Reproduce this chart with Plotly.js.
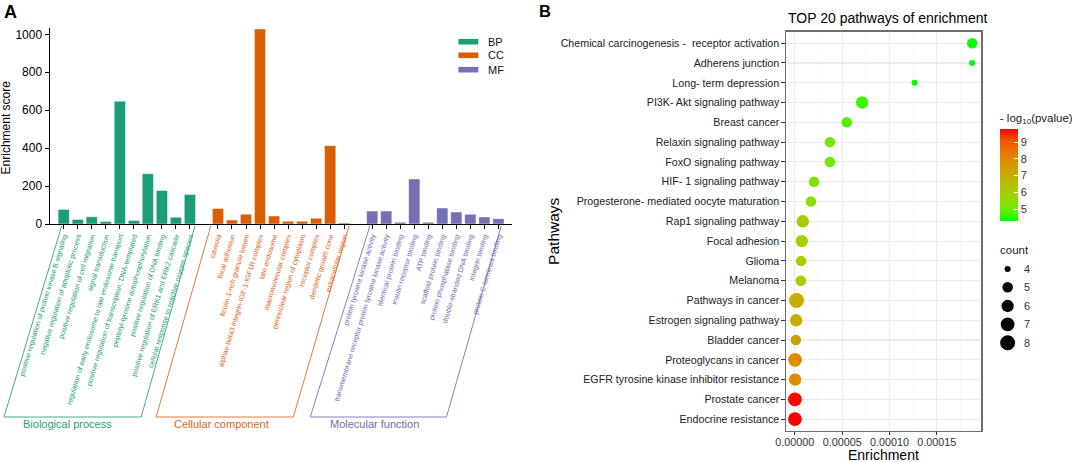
<!DOCTYPE html>
<html>
<head>
<meta charset="utf-8">
<script src="https://cdn.plot.ly/plotly-3.0.1.min.js"></script>
<style>html,body{margin:0;padding:0;background:#fff;}#chart{width:1072px;height:462px;}</style>
</head>
<body>
<div id="chart"></div>
<script>
// ---------- Panel A data ----------
const bpTerms = [
  "positive regulation of protein kinase B signaling",
  "negative regulation of apoptotic process",
  "positive regulation of cell migration",
  "signal transduction",
  "regulation of early endosome to late endosome transport",
  "positive regulation of transcription, DNA-templated",
  "peptidyl-tyrosine autophosphorylation",
  "positive regulation of DNA binding",
  "positive regulation of ERK1 and ERK2 cascade",
  "cellular response to reactive oxygen species"
];
const bpScores = [77, 24, 38, 13, 647, 18, 265, 177, 35, 156];

const ccTerms = [
  "caveola",
  "focal adhesion",
  "ficolin-1-rich granule lumen",
  "alphav-beta3 integrin-IGF-1-IGF1R complex",
  "late endosome",
  "macromolecular complex",
  "perinuclear region of cytoplasm",
  "receptor complex",
  "dendritic growth cone",
  "extracellular region"
];
const ccScores = [82, 21, 52, 1028, 42, 15, 14, 30, 413, 5];

const mfTerms = [
  "protein tyrosine kinase activity",
  "transmembrane receptor protein tyrosine kinase activity",
  "identical protein binding",
  "insulin receptor binding",
  "ATP binding",
  "scaffold protein binding",
  "protein phosphatase binding",
  "double-stranded DNA binding",
  "integrin binding",
  "protein C-terminus binding"
];
const mfScores = [68, 68, 9, 237, 9, 84, 63, 51, 37, 28];

const groupNames = ["BP", "CC", "MF"];
const groupTitles = ["Biological process", "Cellular component", "Molecular function"];

// ---------- Panel B data ----------
const pathways = [
  "Chemical carcinogenesis -\u00a0 receptor activation",
  "Adherens junction",
  "Long- term depression",
  "PI3K- Akt signaling pathway",
  "Breast cancer",
  "Relaxin signaling pathway",
  "FoxO signaling pathway",
  "HIF- 1 signaling pathway",
  "Progesterone- mediated oocyte maturation",
  "Rap1 signaling pathway",
  "Focal adhesion",
  "Glioma",
  "Melanoma",
  "Pathways in cancer",
  "Estrogen signaling pathway",
  "Bladder cancer",
  "Proteoglycans in cancer",
  "EGFR tyrosine kinase inhibitor resistance",
  "Prostate cancer",
  "Endocrine resistance"
];
const enrichment = [1.873e-4, 1.873e-4, 1.264e-4, 7.11e-5, 5.49e-5, 3.71e-5, 3.71e-5, 2.03e-5, 1.71e-5, 8.4e-6,
                    7.4e-6, 6.6e-6, 6.3e-6, 1.8e-6, 1.4e-6, 1.1e-6, 3e-7, 3e-7, 1e-7, 1e-7];
const counts = [5, 4, 4, 6, 5, 5, 5, 5, 5, 6, 6, 5, 5, 8, 6, 5, 7, 6, 7, 7];
const negLogP = [4.4, 4.3, 4.35, 4.7, 4.8, 5.0, 5.0, 5.3, 5.4, 5.9, 5.9, 5.95, 6.0, 7.0, 7.0, 7.3, 7.8, 7.9, 9.7, 9.75];
const colorTicks = [5, 6, 7, 8, 9];
const sizeLegendCounts = [4, 5, 6, 7, 8];
const xTicksB = [0, 0.00005, 0.0001, 0.00015];

// ---------- styling / layout helpers ----------
const W = 1072, H = 462;
const px = p => p / W;
const py = p => 1 - p / H;
const FONT = "Liberation Sans, Arial, Helvetica, sans-serif";
const groupColors = ["#1B9E77", "#D95F02", "#7570B3"];
const labelColors = ["#22A07A", "#E0641A", "#6F6DB5"];
const sizeOf = c => 6 + 9 * Math.sqrt((c - 4) / 4);

const groups = [
  {terms: bpTerms, scores: bpScores},
  {terms: ccTerms, scores: ccScores},
  {terms: mfTerms, scores: mfScores}
];
const traces = [];
const tickvals = [], ticktext = [];
groups.forEach((g, gi) => {
  const offset = gi * (g.terms.length + 1);
  const xs = g.terms.map((t, i) => offset + i);
  xs.forEach((x, i) => {
    tickvals.push(x);
    ticktext.push('<span style="color:' + labelColors[gi] + '">' + g.terms[i] + '</span>');
  });
  traces.push({
    type: "bar", x: xs, y: g.scores, name: groupNames[gi],
    xaxis: "x", yaxis: "y", width: 0.8,
    marker: {color: groupColors[gi], line: {color: "rgba(255,255,255,0.55)", width: 0.8}},
    hoverinfo: "x+y", showlegend: false
  });
});

// Panel B scatter
const colorscale = [
  [0, "#00FF00"], [0.125, "#70EB00"], [0.25, "#98D700"], [0.375, "#B3C200"],
  [0.5, "#C8AB00"], [0.625, "#DA9200"], [0.75, "#E87600"], [0.875, "#F45300"], [1, "#FF0000"]
];
traces.push({
  type: "scatter", mode: "markers", x: enrichment, y: pathways,
  xaxis: "x2", yaxis: "y2", showlegend: false, cliponaxis: false,
  marker: {
    size: counts.map(sizeOf), sizemode: "diameter", color: negLogP,
    colorscale: colorscale, cmin: 4.3, cmax: 9.75, line: {width: 0}, opacity: 1,
    colorbar: {
      thickness: 18, thicknessmode: "pixels", len: 111.4, lenmode: "pixels",
      x: px(1004.5), xanchor: "left", y: py(221), yanchor: "bottom",
      xpad: 0, ypad: 0, outlinewidth: 0,
      tickmode: "array", tickvals: colorTicks, ticks: "inside", ticklen: 4,
      tickcolor: "white", tickwidth: 1,
      tickfont: {family: FONT, size: 11, color: "#333"},
      title: {text: "- log<sub>10</sub>(pvalue)", side: "top", font: {family: FONT, size: 11.5, color: "#1a1a1a"}}
    }
  },
  hovertemplate: "%{y}<br>%{x}<extra></extra>"
});

// ---------- shapes ----------
const shapes = [];
const brackets = [
  [[62, 226], [4, 417], [142, 417], [196, 226]],
  [[212, 226], [157, 417], [295, 417], [351, 226]],
  [[372, 226], [312, 417], [449, 417], [504, 226]]
];
brackets.forEach((b, gi) => {
  const path = b.map((p, i) => (i === 0 ? "M" : "L") + px(p[0]).toFixed(5) + "," + py(p[1]).toFixed(5)).join(" ");
  shapes.push({type: "path", xref: "paper", yref: "paper", path: path,
    line: {color: labelColors[gi], width: 1}, opacity: 0.85});
});
// bar legend swatches
const legY = [41.7, 55.3, 69.7];
legY.forEach((y, i) => {
  shapes.push({type: "rect", xref: "paper", yref: "paper",
    x0: px(461), x1: px(481), y0: py(y + 2.8), y1: py(y - 2.8),
    fillcolor: groupColors[i], line: {width: 0}});
});
// size legend
const sizeLegY = [269, 287.3, 306, 324.3, 342.7];
sizeLegendCounts.forEach((c, i) => {
  const d = sizeOf(c);
  shapes.push({type: "circle", xref: "paper", yref: "paper",
    xsizemode: "pixel", ysizemode: "pixel", xanchor: px(1013.3), yanchor: py(sizeLegY[i]),
    x0: -d / 2, x1: d / 2, y0: -d / 2, y1: d / 2, fillcolor: "#000", line: {width: 0}});
});

// ---------- annotations ----------
const ann = [];
const A = (text, x, y, opts) => ann.push(Object.assign({
  text: text, x: px(x), y: py(y), xref: "paper", yref: "paper", showarrow: false,
  xanchor: "center", yanchor: "middle", font: {family: FONT, size: 11, color: "#000"}
}, opts || {}));
A("<b>A</b>", 2, 12, {xanchor: "left", font: {family: FONT, size: 18, color: "#000"}});
A("<b>B</b>", 540.5, 11.5, {xanchor: "left", font: {family: FONT, size: 16.5, color: "#000"}});
A("Enrichment score", 6.5, 127, {textangle: -90, font: {family: FONT, size: 12, color: "#000"}});
const groupLabelX = [68, 223, 377];
groupTitles.forEach((t, i) => A(t, groupLabelX[i], 424, {font: {family: FONT, size: 11, color: labelColors[i]}}));
groupNames.forEach((n, i) => A(n, 489, legY[i], {xanchor: "left", font: {family: FONT, size: 11, color: "#111"}}));
A("TOP 20 pathways of enrichment", 790, 18, {xanchor: "left", font: {family: FONT, size: 14, color: "#000"}});
A("Pathways", 556, 231, {textangle: -90, font: {family: FONT, size: 15.5, color: "#000"}});
A("Enrichment", 888.7, 455, {font: {family: FONT, size: 14, color: "#000"}});
A("count", 1004, 250, {xanchor: "left", font: {family: FONT, size: 11.5, color: "#1a1a1a"}});
sizeLegendCounts.forEach((c, i) => A(String(c), 1027.5, sizeLegY[i], {xanchor: "left", font: {family: FONT, size: 11, color: "#333"}}));

// ---------- layout ----------
const yScaleA = 0.18967; // px per unit
const yTopA = 1035;
const layout = {
  width: W, height: H, margin: {l: 0, r: 0, t: 0, b: 0}, paper_bgcolor: "#fff", plot_bgcolor: "rgba(0,0,0,0)",
  showlegend: false, font: {family: FONT, color: "#000"},
  bargap: 0,
  xaxis: {
    domain: [px(50), px(515.3)], range: [-1, 32], anchor: "y",
    showgrid: false, zeroline: false, showline: true, linecolor: "#000", linewidth: 1.2,
    ticks: "outside", ticklen: 4, tickwidth: 1, tickcolor: "#000",
    tickmode: "array", tickvals: tickvals, ticktext: ticktext, tickangle: -73,
    tickfont: {family: FONT, size: 7.1}, automargin: false, fixedrange: true
  },
  yaxis: {
    domain: [py(224), py(224 - yTopA * yScaleA)], range: [0, yTopA], anchor: "x",
    showgrid: false, zeroline: false, showline: true, linecolor: "#000", linewidth: 1.2,
    ticks: "outside", ticklen: 4, tickwidth: 1, tickcolor: "#000",
    tickmode: "array", tickvals: [0, 200, 400, 600, 800, 1000],
    tickfont: {family: FONT, size: 12, color: "#000"}, automargin: false
  },
  xaxis2: {
    domain: [px(790.7), px(986.7)], range: [-0.00000903, 0.0001968], anchor: "y2",
    showgrid: true, gridcolor: "#ebebeb", gridwidth: 1.1, zeroline: false,
    showline: true, mirror: true, linecolor: "#6e6e6e", linewidth: 1.4,
    ticks: "outside", ticklen: 3, tickcolor: "#333", tickwidth: 1,
    tickmode: "array", tickvals: xTicksB, tickformat: ".5f", ticklabelstandoff: -2,
    tickfont: {family: FONT, size: 10.8, color: "#333"},
    minor: {dtick: 0.000025, tick0: 0, showgrid: true, gridcolor: "#f1f1f1", gridwidth: 0.6, ticks: ""},
    automargin: false
  },
  yaxis2: {
    domain: [py(430.7), py(31.7)], anchor: "x2", type: "category",
    categoryorder: "array", categoryarray: pathways, range: [19.58, -0.58],
    showgrid: true, gridcolor: "#ebebeb", gridwidth: 1.1, zeroline: false,
    showline: true, mirror: true, linecolor: "#6e6e6e", linewidth: 1.4,
    ticks: "outside", ticklen: 3.5, tickcolor: "#333", tickwidth: 1,
    tickfont: {family: FONT, size: 10.7, color: "#222"}, automargin: false
  },
  shapes: shapes,
  annotations: ann
};

Plotly.newPlot("chart", traces, layout, {displayModeBar: false, staticPlot: true});
</script>
</body>
</html>
